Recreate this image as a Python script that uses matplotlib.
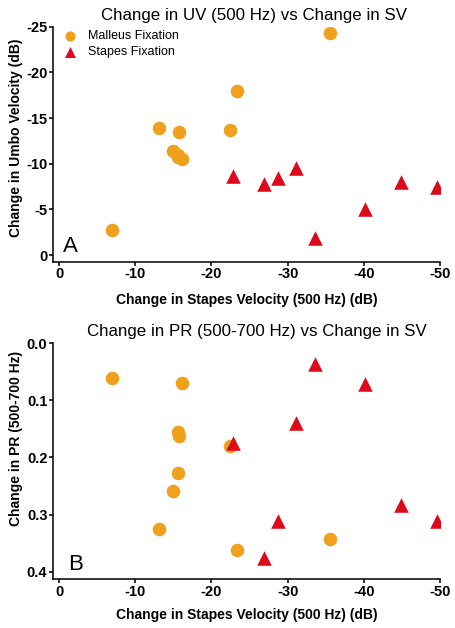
import matplotlib
matplotlib.use("Agg")
import matplotlib.pyplot as plt
from matplotlib.ticker import FormatStrFormatter

plt.rcParams['font.family'] = ['Liberation Sans', 'DejaVu Sans']
plt.rcParams['axes.unicode_minus'] = False

# Malleus fixation
mal_sv = [-7.0, -13.1, -14.9, -15.6, -15.6, -15.7, -16.1, -22.4, -23.3, -35.5]
mal_uv = [-2.7, -13.9, -11.4, -11.0, -10.7, -13.5, -10.5, -13.7, -18.0, -24.3]
mal_pr = [0.061, 0.325, 0.259, 0.155, 0.227, 0.162, 0.0695, 0.180, 0.3625, 0.343]

# Stapes fixation
stp_sv = [-22.8, -26.9, -28.7, -31.1, -33.6, -40.1, -44.9, -49.6]
stp_uv = [-8.7, -7.8, -8.4, -9.55, -1.9, -5.0, -7.95, -7.5]
stp_pr = [0.174, 0.377, 0.312, 0.140, 0.036, 0.072, 0.283, 0.312]

orange = '#EFA01C'
red = '#DC0A1A'

fig = plt.figure(figsize=(4.56, 6.28), dpi=100)
ax1 = fig.add_axes([0.1162, 0.5833, 0.8487, 0.3742])
ax2 = fig.add_axes([0.1162, 0.078, 0.8487, 0.3753])

for ax in (ax1, ax2):
    for s in ('top', 'right'):
        ax.spines[s].set_visible(False)
    for s in ('left', 'bottom'):
        ax.spines[s].set_linewidth(1.1)
    ax.tick_params(direction='out', length=3, width=1.1, labelsize=10.5, pad=1)
    ax.set_xlim(0.8, -50)
    ax.set_xticks([0, -10, -20, -30, -40, -50])

# panel A
ax1.scatter(mal_sv, mal_uv, s=95, color=orange, marker='o', lw=0, label='Malleus Fixation')
ax1.scatter(stp_sv, stp_uv, s=110, color=red, marker='^', lw=0, label='Stapes Fixation')
ax1.set_ylim(0.73, -25)
ax1.set_yticks([0, -5, -10, -15, -20, -25])
ax1.set_xlabel("Change in Stapes Velocity (500 Hz) (dB)", fontsize=10, fontweight='bold')
ax1.set_ylabel("Change in Umbo Velocity (dB)", fontsize=10, fontweight='bold')
ax1.xaxis.set_label_coords(0.5, -0.133)
ax1.yaxis.set_label_coords(-0.0775, 0.526)
ax1.set_title("Change in UV (500 Hz) vs Change in SV", fontsize=12.2, pad=5, x=0.52)
ax1.text(0.025, 0.04, "A", transform=ax1.transAxes, fontsize=16)
ax1.legend(loc='upper left', frameon=False, fontsize=9, handletextpad=0.4,
           borderaxespad=0.0, labelspacing=0.3, bbox_to_anchor=(0.0, 1.006),
           markerscale=0.75)

# panel B
ax2.scatter(mal_sv, mal_pr, s=95, color=orange, marker='o', lw=0)
ax2.scatter(stp_sv, stp_pr, s=110, color=red, marker='^', lw=0)
ax2.set_ylim(0.413, 0.0)
ax2.set_yticks([0.0, 0.1, 0.2, 0.3, 0.4])
ax2.yaxis.set_major_formatter(FormatStrFormatter('%.1f'))
ax2.set_xlabel("Change in Stapes Velocity (500 Hz) (dB)", fontsize=10, fontweight='bold')
ax2.set_ylabel("Change in PR (500-700 Hz)", fontsize=10, fontweight='bold')
ax2.xaxis.set_label_coords(0.5, -0.122)
ax2.yaxis.set_label_coords(-0.0775, 0.595)
ax2.set_title("Change in PR (500-700 Hz) vs Change in SV", fontsize=12.2, pad=5, x=0.528)
ax2.text(0.04, 0.04, "B", transform=ax2.transAxes, fontsize=16)

for ax in (ax1, ax2):
    for lab in ax.get_xticklabels() + ax.get_yticklabels():
        lab.set_fontweight('bold')

fig.savefig("out.png", dpi=100)
